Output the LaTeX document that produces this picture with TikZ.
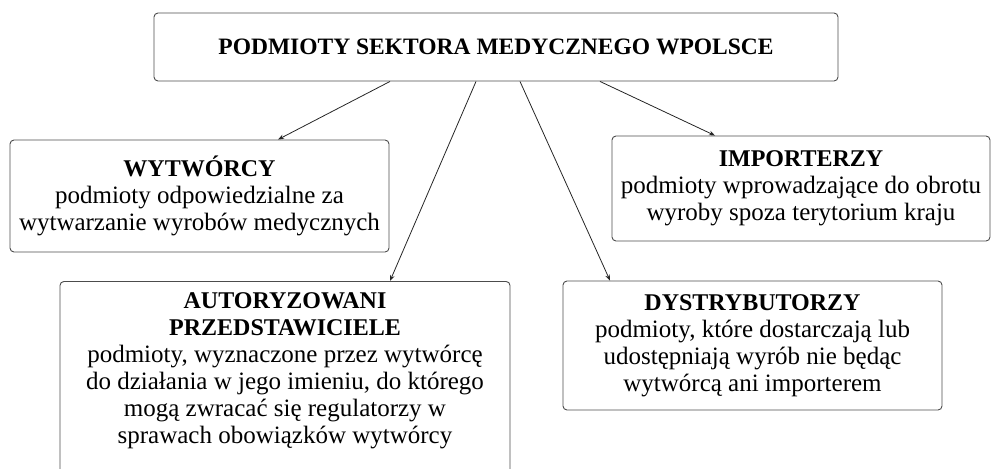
\documentclass[tikz,border=0pt]{standalone}
\usepackage{fontspec}
\setmainfont{Liberation Serif}
\usetikzlibrary{arrows.meta,calc}

\tikzset{
  frame/.style={draw=black!70, line width=0.9pt, rounded corners=4pt,
    align=center, inner sep=0pt,
    font=\fontsize{25}{27}\selectfont},
  link/.style={draw=black!85, line width=0.8pt,
    -{Stealth[length=6pt,width=4.5pt]}},
}

\begin{document}
\begin{tikzpicture}[x=1pt,y=-1pt]
  \clip (0,0) rectangle (992,468);

  % main heading
  \node[frame, minimum width=684, minimum height=68]
    (top) at (496,47)
    {\fontsize{23.5}{27}\bfseries PODMIOTY SEKTORA MEDYCZNEGO WPOLSCE};

  % first row
  \node[frame, minimum width=379, minimum height=112]
    (wyt) at (199.5,196)
    {{\fontsize{24}{27}\bfseries WYTWÓRCY}\\
     podmioty odpowiedzialne za\\
     wytwarzanie wyrobów medycznych};

  \node[frame, minimum width=378, minimum height=105]
    (imp) at (801,188.5)
    {{\fontsize{24}{27}\bfseries IMPORTERZY}\\
     podmioty wprowadzające do obrotu\\
     wyroby spoza terytorium kraju};

  % second row: the tall box runs past the lower edge
  \node[frame, minimum width=450, minimum height=230, anchor=north]
    (aut) at (285,281) {};
  \node[align=center, inner sep=0pt, anchor=north,
        font=\fontsize{25}{27}\selectfont]
    (auttxt) at ([yshift=-11]aut.north)
    {{\fontsize{24}{27}\bfseries AUTORYZOWANI}\\
     {\fontsize{24}{27}\bfseries PRZEDSTAWICIELE}\\
     podmioty, wyznaczone przez wytwórcę\\
     do działania w jego imieniu, do którego\\
     mogą zwracać się regulatorzy w\\
     sprawach obowiązków wytwórcy};

  \node[frame, minimum width=379, minimum height=129]
    (dys) at (752.5,345.5)
    {{\fontsize{24}{27}\bfseries DYSTRYBUTORZY}\\
     podmioty, które dostarczają lub\\
     udostępniają wyrób nie będąc\\
     wytwórcą ani importerem};

  % connectors
  \draw[link] ([xshift=-106]top.south) -- ([xshift=78.5]wyt.north);
  \draw[link] ([xshift=-20]top.south) -- ([xshift=105]aut.north);
  \draw[link] ([xshift=24]top.south) -- ([xshift=-142.5]dys.north);
  \draw[link] ([xshift=104]top.south) -- ([xshift=-86]imp.north);
\end{tikzpicture}
\end{document}
